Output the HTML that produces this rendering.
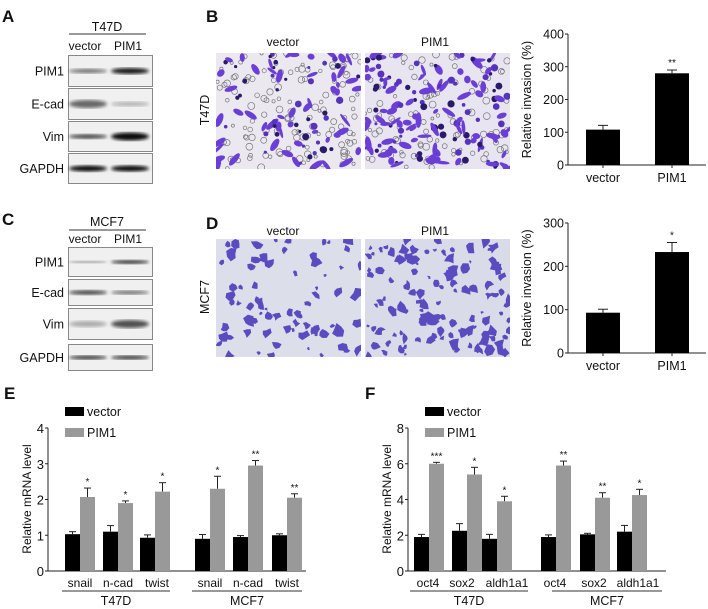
<!DOCTYPE html>
<html><head><meta charset="utf-8">
<style>
html,body{margin:0;padding:0;background:#fff;}
svg{display:block;font-family:"Liberation Sans",Arial,sans-serif;}
</style></head>
<body>
<svg id="fig" width="708" height="609" viewBox="0 0 708 609">
<defs>
<filter id="blur1"><feGaussianBlur stdDeviation="1.6"/></filter>
</defs>
<g id="root"></g>
</svg>
<script>
// ---- Chart data ----
const invCats = ["vector", "PIM1"];
const invB = [108, 280];
const invBErr = [13, 10];
const invBStars = ["", "**"];
const invBTicks = [0, 100, 200, 300, 400];
const invD = [93, 233];
const invDErr = [8, 22];
const invDStars = ["", "*"];
const invDTicks = [0, 100, 200, 300];

const eGenes = ["snail", "n-cad", "twist", "snail", "n-cad", "twist"];
const eVector = [1.03, 1.1, 0.93, 0.9, 0.95, 1.0];
const eVectorErr = [0.07, 0.17, 0.08, 0.12, 0.04, 0.04];
const ePim = [2.07, 1.9, 2.22, 2.3, 2.95, 2.05];
const ePimErr = [0.25, 0.06, 0.25, 0.35, 0.14, 0.11];
const eStars = ["*", "*", "*", "*", "**", "**"];
const eTicks = [0, 1, 2, 3, 4];

const fGenes = ["oct4", "sox2", "aldh1a1", "oct4", "sox2", "aldh1a1"];
const fVector = [1.9, 2.25, 1.8, 1.9, 2.05, 2.2];
const fVectorErr = [0.15, 0.4, 0.25, 0.12, 0.06, 0.35];
const fPim = [6.0, 5.4, 3.9, 5.9, 4.1, 4.25];
const fPimErr = [0.08, 0.4, 0.28, 0.25, 0.28, 0.32];
const fStars = ["***", "*", "*", "**", "**", "*"];
const fTicks = [0, 2, 4, 6, 8];
const cellLines = ["T47D", "MCF7"];

const NS = "http://www.w3.org/2000/svg";
const root = document.getElementById("root");
function mk(tag, attrs, parent) {
  const e = document.createElementNS(NS, tag);
  for (const k in attrs) e.setAttribute(k, attrs[k]);
  (parent || root).appendChild(e);
  return e;
}
function txt(x, y, s, size, anchor, parent, extra) {
  const t = mk("text", Object.assign({x: x, y: y, "font-size": size, "text-anchor": anchor || "middle", fill: "#111"}, extra || {}), parent);
  t.textContent = s;
  return t;
}

// ---- Panel letters ----
[["A",2,22],["B",206,22],["C",2,225],["D",206,229],["E",4,399],["F",365,399]].forEach(p=>{
  const t = txt(p[1], p[2], p[0], 17, "start", root, {"font-weight": "bold"});
  
  
});

// ---- Western blots ----
function blotPanel(cell, titleY, lineY, labY, boxes, bands, nameSuffix) {
  const g = mk("g", {});
  
  
  txt(107, titleY, cell, 12.5, "middle", g);
  mk("line", {x1: 69, x2: 146, y1: lineY, y2: lineY, stroke: "#333", "stroke-width": 1}, g);
  txt(85, labY, "vector", 12, "middle", g);
  txt(128, labY, "PIM1", 12, "middle", g);
  const labels = ["PIM1", "E-cad", "Vim", "GAPDH"];
  boxes.forEach((b, i) => {
    const bg = mk("g", {}, g);
    
    
    mk("rect", {x: 68.5, y: b[0] + 0.5, width: 84, height: b[1] - b[0] - 1, fill: "#f0f0f0", stroke: "#888", "stroke-width": 1}, bg);
    const cy = (b[0] + b[1]) / 2;
    bands[i].forEach((o, j) => {
      const cx = j === 0 ? 88 : 130;
      mk("ellipse", {cx: cx, cy: cy, rx: 19, ry: o[1], fill: "#111", opacity: o[0], filter: "url(#blur1)"}, bg);
    });
    txt(64, cy + 4.5, labels[i], 12.5, "end", bg);
  });
}
blotPanel("T47D", 31, 34, 50, [[55, 87], [88, 120], [121, 152], [153, 184]],
  [[[0.55, 2.2], [0.95, 3]], [[0.6, 4], [0.25, 2.5]], [[0.7, 2.5], [1, 4]], [[1, 3], [1, 3]]], "t47d");
blotPanel("MCF7", 226, 230, 243, [[247, 277], [279, 306], [308, 340], [344, 371]],
  [[[0.4, 1.2], [0.8, 2]], [[0.7, 2.5], [0.55, 2]], [[0.3, 3], [0.7, 4]], [[0.8, 2], [0.8, 2]]], "mcf7");

// ---- Microscopy images (decorative) ----
let seed = 7;
function rnd() { seed = (seed * 16807) % 2147483647; return (seed - 1) / 2147483646; }
function micro(x, y, w, h, bg, nCells, nRings, style, name) {
  const g = mk("g", {});
  
  
  const cid = "clip-" + name;
  const cp = mk("clipPath", {id: cid}, g);
  mk("rect", {x: x, y: y, width: w, height: h}, cp);
  const inner = mk("g", {"clip-path": "url(#" + cid + ")"}, g);
  mk("rect", {x: x, y: y, width: w, height: h, fill: bg}, inner);
  if (style === "t") {
    for (let i = 0; i < nRings; i++) {
      mk("circle", {cx: x + rnd() * w, cy: y + rnd() * h, r: 1.5 + rnd() * 2, fill: "none", stroke: "#777", "stroke-width": 0.7}, inner);
    }
    for (let i = 0; i < nCells; i++) {
      const cx = x + rnd() * w, cy = y + rnd() * h;
      if (rnd() < 0.45) {
        mk("circle", {cx: cx, cy: cy, r: 1.5 + rnd() * 2.2, fill: rnd() < 0.5 ? "#2a1a6a" : "#5533bb"}, inner);
      } else {
        const a = rnd() * 180;
        mk("ellipse", {cx: cx, cy: cy, rx: 3 + rnd() * 5, ry: 1.5 + rnd() * 2, fill: "#6a3fd6", transform: "rotate(" + a + " " + cx + " " + cy + ")"}, inner);
      }
    }
  } else {
    for (let i = 0; i < nCells; i++) {
      const cx = x + rnd() * w, cy = y + rnd() * h;
      const pts = [];
      const r = 1.5 + rnd() * 4;
      for (let k = 0; k < 7; k++) {
        const ang = k / 7 * Math.PI * 2;
        const rr = r * (0.5 + rnd());
        pts.push((cx + Math.cos(ang) * rr).toFixed(1) + "," + (cy + Math.sin(ang) * rr).toFixed(1));
      }
      mk("polygon", {points: pts.join(" "), fill: "#5a4cc0"}, inner);
    }
  }
  return g;
}
micro(216, 53, 145, 116, "#ebe8f0", 95, 130, "t", "micrograph-t47d-vector");
micro(365, 53, 145, 116, "#e8e4f0", 150, 100, "t", "micrograph-t47d-pim1");
micro(216, 239, 145, 118, "#dcdee9", 75, 0, "m", "micrograph-mcf7-vector");
micro(365, 239, 145, 118, "#d9dbe8", 130, 0, "m", "micrograph-mcf7-pim1");
txt(283, 46, "vector", 12, "middle");
txt(435, 46, "PIM1", 12, "middle");
txt(283, 235, "vector", 12, "middle");
txt(435, 235, "PIM1", 12, "middle");
txt(0, 0, "T47D", 12.5, "middle", root, {transform: "translate(209,110) rotate(-90)"});
txt(0, 0, "MCF7", 12.5, "middle", root, {transform: "translate(209,297) rotate(-90)"});

// ---- Invasion bar charts ----
function invChart(vals, errs, stars, ticks, y0, y1, name) {
  const g = mk("g", {});
  
  
  const ax = 568, xEnd = 706;
  const max = ticks[ticks.length - 1];
  const ys = v => y0 - (v / max) * (y0 - y1);
  mk("line", {x1: ax, x2: ax, y1: y1, y2: y0, stroke: "#222", "stroke-width": 1}, g);
  mk("line", {x1: ax, x2: xEnd, y1: y0, y2: y0, stroke: "#222", "stroke-width": 1}, g);
  ticks.forEach(t => {
    mk("line", {x1: ax - 3, x2: ax, y1: ys(t), y2: ys(t), stroke: "#222"}, g);
    txt(ax - 4, ys(t) + 4.5, String(t), 12.5, "end", g);
  });
  const centers = [603, 672];
  vals.forEach((v, i) => {
    const cx = centers[i];
    mk("line", {x1: cx, x2: cx, y1: ys(v + errs[i]), y2: ys(v), stroke: "#222"}, g);
    mk("line", {x1: cx - 5, x2: cx + 5, y1: ys(v + errs[i]), y2: ys(v + errs[i]), stroke: "#222"}, g);
    const b = mk("rect", {x: cx - 17, y: ys(v), width: 34, height: y0 - ys(v), fill: "#000"}, g);
    
    
    mk("line", {x1: cx, x2: cx, y1: y0, y2: y0 + 3, stroke: "#222"}, g);
    if (stars[i]) txt(cx, ys(v + errs[i]) - 4, stars[i], 10, "middle", g);
    txt(cx, y0 + 17, invCats[i], 12.5, "middle", g);
  });
  txt(0, 0, "Relative invasion (%)", 12.5, "middle", g, {transform: "translate(531," + ((y0 + y1) / 2) + ") rotate(-90)"});
}
invChart(invB, invBErr, invBStars, invBTicks, 165, 34, "invasion-chart-t47d");
invChart(invD, invDErr, invDStars, invDTicks, 353, 223, "invasion-chart-mcf7");

// ---- mRNA grouped bar charts ----
function mrnaChart(ox, genes, vv, ve, pv, pe, stars, ticks, centers, labelX, lines, name) {
  const g = mk("g", {});
  
  
  const ax = ox + 48, y0 = 571, y1 = 428, xEnd = ox + 306;
  const max = ticks[ticks.length - 1];
  const ys = v => y0 - (v / max) * (y0 - y1);
  mk("line", {x1: ax, x2: ax, y1: y1, y2: y0, stroke: "#222"}, g);
  mk("line", {x1: ax, x2: xEnd, y1: y0, y2: y0, stroke: "#222"}, g);
  ticks.forEach(t => {
    mk("line", {x1: ax - 3, x2: ax, y1: ys(t), y2: ys(t), stroke: "#222"}, g);
    txt(ax - 4, ys(t) + 5, String(t), 13, "end", g);
  });
  txt(0, 0, "Relative mRNA level", 12, "middle", g, {transform: "translate(" + (ox + 31) + ",499) rotate(-90)"});
  genes.forEach((gn, i) => {
    const c = centers[i];
    [[vv, ve, "#000", c - 15, "vector"], [pv, pe, "#999", c, "pim1"]].forEach(s => {
      const v = s[0][i], e = s[1][i], bx = s[3];
      mk("line", {x1: bx + 7.5, x2: bx + 7.5, y1: ys(v + e), y2: ys(v), stroke: "#222"}, g);
      mk("line", {x1: bx + 4, x2: bx + 11, y1: ys(v + e), y2: ys(v + e), stroke: "#222"}, g);
      const r = mk("rect", {x: bx, y: ys(v), width: 15, height: y0 - ys(v), fill: s[2]}, g);
      
      
    });
    txt(c + 7.5, ys(pv[i] + pe[i]) - 3, stars[i], 10, "middle", g);
    txt(labelX[i], 587, gn, 12, "middle", g);
  });
  lines.forEach((l, k) => {
    mk("line", {x1: l[0], x2: l[1], y1: 591, y2: 591, stroke: "#333"}, g);
    txt((l[0] + l[1]) / 2, 605, cellLines[k], 12.5, "middle", g);
  });
  const lg = mk("g", {}, g);
  
  
  mk("rect", {x: ox + 65, y: 407, width: 19, height: 9, fill: "#000"}, lg);
  txt(ox + 87, 416, "vector", 12.5, "start", lg);
  mk("rect", {x: ox + 65, y: 428, width: 19, height: 9, fill: "#999"}, lg);
  txt(ox + 87, 437, "PIM1", 12.5, "start", lg);
}
mrnaChart(0, eGenes, eVector, eVectorErr, ePim, ePimErr, eStars, eTicks,
  [80, 118, 155, 210, 248, 287], [80, 118, 157, 210, 248, 287], [[62, 170], [192, 302]], "mrna-chart-emt");
mrnaChart(360, fGenes, fVector, fVectorErr, fPim, fPimErr, fStars, fTicks,
  [429, 467, 497, 556, 595, 632], [428, 462, 507, 555, 594, 638], [[410, 528], [552, 662]], "mrna-chart-stem");
</script>
</body></html>
